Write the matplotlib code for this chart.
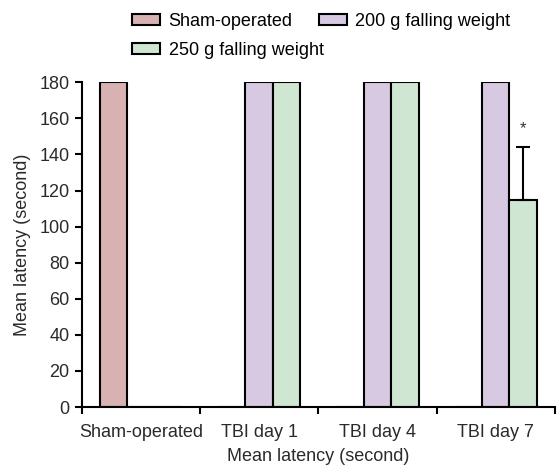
import numpy as np
import matplotlib.pyplot as plt

categories = ["Sham-operated", "TBI day 1", "TBI day 4", "TBI day 7"]
sham = [180, 0, 0, 0]
w200 = [0, 180, 180, 180]
w250 = [0, 180, 180, 115]
w250_err = [0, 0, 0, 29]
labels = ["Sham-operated", "200 g falling weight", "250 g falling weight"]
colors = ["#d8b2b3", "#d7c9e2", "#cfe7d2"]

plt.rcParams['font.family'] = ['Liberation Sans', 'DejaVu Sans']
fs = 13
tc = "#2a2a2a"

fig = plt.figure(figsize=(5.57, 4.70), dpi=100)
ax = fig.add_axes([0.147, 0.134, 0.849, 0.691])

x = np.arange(len(categories))
bw = 0.232
bars = []
for i, (vals, col) in enumerate(zip([sham, w200, w250], colors)):
    b = ax.bar(x + (i - 1) * bw, vals, bw, color=col, edgecolor="black", linewidth=1.5, label=labels[i])
    bars.append(b)

# error bar (upper only) for 250 g, day 7
ax.errorbar(x[3] + bw, w250[3], yerr=[[0], [w250_err[3]]], fmt="none", ecolor="black",
            elinewidth=1.5, capsize=5, capthick=1.5)
ax.text(x[3] + bw, w250[3] + w250_err[3] + 6, "*", ha="center", va="bottom", fontsize=12, color="#333333")

ax.set_xlim(-0.5, 3.5)
ax.set_ylim(0, 180)
ax.set_yticks(range(0, 181, 20))
ax.set_xticks(np.arange(-0.5, 3.6, 1.0))
ax.set_xticklabels([])
ax.set_xticks(x, minor=True)
ax.set_xticklabels(categories, minor=True, fontsize=fs, color=tc)
ax.tick_params(axis="x", which="minor", length=0, pad=12)
ax.tick_params(axis="x", which="major", length=5, width=1.5, direction="out")
ax.tick_params(axis="y", length=5, width=1.5, labelsize=fs, labelcolor=tc, pad=4)
for s in ["top", "right"]:
    ax.spines[s].set_visible(False)
for s in ["left", "bottom"]:
    ax.spines[s].set_linewidth(1.5)

ax.set_ylabel("Mean latency (second)", fontsize=fs, color=tc, labelpad=6)
ax.set_xlabel("Mean latency (second)", fontsize=fs, color=tc, labelpad=5)

kw = dict(frameon=False, fontsize=fs, handlelength=1.55, handleheight=0.55,
          handletextpad=0.45, borderpad=0.2)
fig.legend([bars[0], bars[1]], [labels[0], labels[1]], loc="upper left",
           bbox_to_anchor=(0.215, 1.0), ncol=2, columnspacing=1.45, **kw)
fig.legend([bars[2]], [labels[2]], loc="upper left",
           bbox_to_anchor=(0.215, 0.938), **kw)

fig.savefig("out.png", dpi=100)
